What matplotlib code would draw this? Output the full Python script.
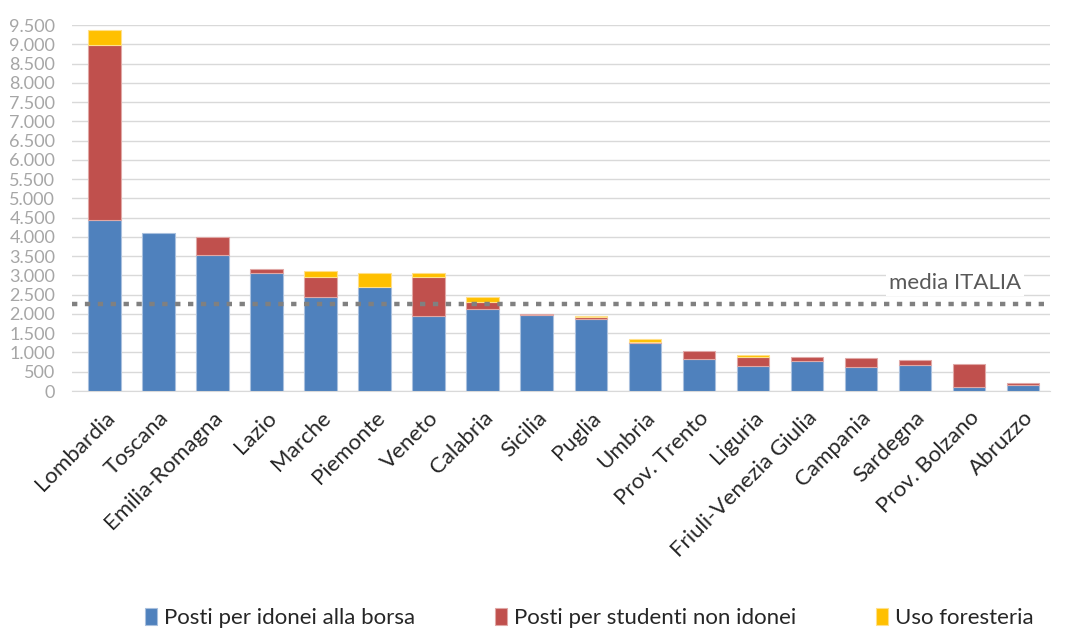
import numpy as np
import matplotlib
matplotlib.use('Agg')
import matplotlib.pyplot as plt
from matplotlib.ticker import FuncFormatter

plt.rcParams['font.family'] = ['Lato', 'DejaVu Sans']

# regioni e posti letto
regioni = ['Lombardia', 'Toscana', 'Emilia-Romagna', 'Lazio', 'Marche', 'Piemonte',
           'Veneto', 'Calabria', 'Sicilia', 'Puglia', 'Umbria', 'Prov. Trento',
           'Liguria', 'Friuli-Venezia Giulia', 'Campania', 'Sardegna',
           'Prov. Bolzano', 'Abruzzo']
idonei = [4430, 4105, 3525, 3070, 2430, 2700, 1950, 2120, 1970, 1860, 1240, 820,
          660, 770, 615, 685, 110, 165]
non_idonei = [4560, 0, 465, 90, 540, 0, 1020, 180, 30, 50, 40, 210,
              230, 110, 235, 120, 600, 35]
foresteria = [380, 0, 0, 0, 150, 360, 80, 140, 0, 40, 70, 0,
              40, 0, 0, 0, 0, 0]
media_italia = 2270

col_blu = '#4F81BD'
col_rosso = '#C0504D'
col_giallo = '#FFC000'

fig = plt.figure(figsize=(10.67, 6.32), dpi=100)
ax = fig.add_axes([72/1067, 1-391/632, (1050-72)/1067, (391-25)/632])

x = np.arange(len(regioni))
idonei = np.array(idonei)
non_idonei = np.array(non_idonei)
foresteria = np.array(foresteria)

w = 0.6
# niente bordo per i segmenti a zero
lw = lambda v: np.where(v > 0, 0.8, 0)
ax.bar(x, idonei, w, color=col_blu, edgecolor='#A9C0DE', linewidth=lw(idonei), zorder=3,
       label='Posti per idonei alla borsa')
ax.bar(x, non_idonei, w, bottom=idonei, color=col_rosso, edgecolor='#E0A8A6',
       linewidth=lw(non_idonei), zorder=3, label='Posti per studenti non idonei')
ax.bar(x, foresteria, w, bottom=idonei + non_idonei, color=col_giallo,
       edgecolor='#FFE08A', linewidth=lw(foresteria), zorder=3, label='Uso foresteria')

ax.axhline(media_italia, color='#808080', linewidth=3.2, linestyle=(0, (1.2, 1.7)),
           zorder=4)
ax.text(0.903, 2800, 'media ITALIA', transform=ax.get_yaxis_transform(),
        ha='center', va='center', fontsize=16, color='#595959', zorder=5,
        bbox=dict(facecolor='white', edgecolor='none', pad=2))

ax.set_xlim(-0.6, len(regioni) - 0.5)
ax.set_ylim(0, 9500)
ax.set_yticks(np.arange(0, 9501, 500))
ax.yaxis.set_major_formatter(FuncFormatter(lambda v, p: f'{int(v):,}'.replace(',', '.')))
ax.grid(axis='y', color='#D9D9D9', linewidth=1, zorder=0)
ax.set_axisbelow(True)
for s in ['top', 'right', 'left']:
    ax.spines[s].set_visible(False)
ax.spines['bottom'].set_color('#D9D9D9')
ax.tick_params(axis='y', length=0, labelsize=13, labelcolor='#A6A6A6', pad=12)
ax.tick_params(axis='x', length=0, labelsize=16, labelcolor='#262626', pad=12)
ax.set_xticks(x)
ax.set_xticklabels(regioni, rotation=45, ha='right', rotation_mode='anchor')

handles, labels = ax.get_legend_handles_labels()
fig.legend(handles, labels, loc='center', bbox_to_anchor=(0.552, 0.022), ncol=3,
           frameon=False, fontsize=16, handlelength=0.55, handleheight=0.8,
           handletextpad=0.3, columnspacing=3.6, labelcolor='#262626')

fig.savefig('out.png', dpi=100)
